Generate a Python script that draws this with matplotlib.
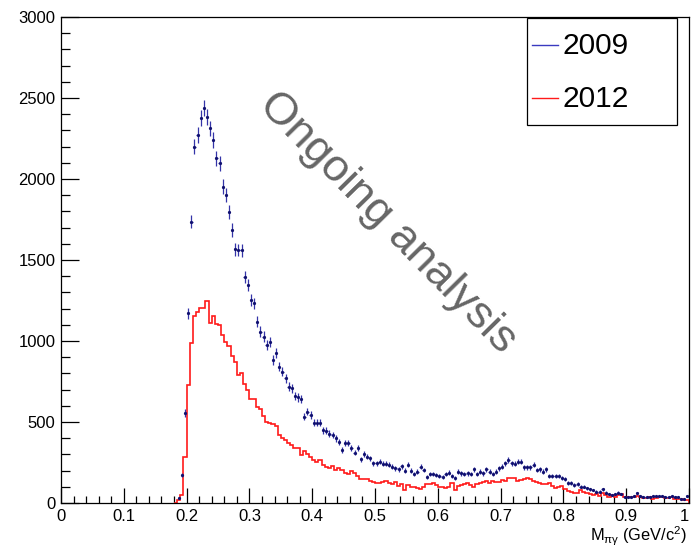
import numpy as np
import matplotlib
matplotlib.use('Agg')
import matplotlib.pyplot as plt
from matplotlib.lines import Line2D
from matplotlib.patches import Rectangle
from matplotlib.ticker import MultipleLocator

plt.rcParams['font.family'] = ['Liberation Sans', 'DejaVu Sans']

# ---------------- data ----------------
n_bins = 200
x_range = (0.0, 1.0)
first_bin = 37          # first non-empty bin (0.185 - 0.190)

counts_2009 = [
    29, 173, 554, 1171, 1737, 2200, 2272, 2375, 2436, 2385,
    2313, 2240, 2128, 2097, 1953, 1901, 1798, 1685, 1565, 1562,
    1560, 1397, 1346, 1253, 1233, 1119, 1057, 1027, 975, 996,
    883, 924, 841, 810, 770, 718, 708, 660, 652, 640,
    533, 564, 543, 496, 496, 496, 448, 445, 428, 420,
    399, 378, 327, 372, 372, 338, 311, 338, 270, 302,
    286, 276, 245, 245, 255, 241, 241, 235, 224, 214,
    208, 228, 199, 235, 199, 179, 193, 224, 204, 162,
    179, 179, 173, 167, 160, 179, 187, 167, 152, 193,
    183, 179, 183, 179, 208, 179, 193, 183, 208, 193,
    179, 193, 214, 224, 245, 265, 245, 241, 255, 255,
    220, 220, 220, 235, 204, 208, 193, 208, 167, 167,
    167, 167, 155, 146, 125, 125, 111, 117, 101, 101,
    91, 85, 80, 70, 70, 85, 64, 56, 49, 56,
    64, 56, 35, 35, 39, 43, 60, 43, 35, 35,
    39, 43, 43, 43, 43, 39, 39, 43, 35, 35,
    27, 27, 43,
]

counts_2012 = [
    18, 49, 286, 728, 986, 1156, 1181, 1202, 1206, 1249,
    1109, 1154, 1105, 1100, 1035, 996, 970, 905, 870, 790,
    800, 735, 700, 645, 640, 595, 580, 540, 500, 495,
    490, 475, 420, 400, 389, 372, 358, 337, 337, 296,
    322, 300, 286, 265, 255, 265, 235, 220, 214, 228,
    204, 214, 204, 183, 179, 200, 183, 167, 146, 146,
    146, 138, 132, 125, 121, 132, 138, 121, 117, 132,
    105, 117, 80, 111, 101, 97, 91, 85, 101, 117,
    117, 121, 111, 101, 101, 91, 101, 121, 80, 105,
    111, 117, 125, 111, 101, 117, 125, 132, 138, 125,
    138, 132, 132, 142, 138, 152, 152, 152, 138, 142,
    146, 152, 146, 138, 132, 125, 117, 117, 121, 105,
    91, 101, 105, 85, 76, 70, 60, 64, 80, 70,
    60, 56, 49, 56, 43, 60, 49, 39, 49, 39,
    49, 56, 35, 35, 39, 35, 43, 35, 29, 29,
    35, 23, 29, 35, 35, 29, 29, 35, 23, 23,
    23, 19, 19,
]

series_labels = ['2009', '2012']
x_ticks = [0, 0.1, 0.2, 0.3, 0.4, 0.5, 0.6, 0.7, 0.8, 0.9, 1]
x_tick_labels = ['0', '0.1', '0.2', '0.3', '0.4', '0.5', '0.6', '0.7', '0.8', '0.9', '1']
y_ticks = [0, 500, 1000, 1500, 2000, 2500, 3000]
x_label = 'M$_{\\mathregular{πγ}}$ (GeV/c$^{\\mathregular{2}}$)'
watermark = 'Ongoing analysis'

# ---------------- build histograms ----------------
edges = np.linspace(x_range[0], x_range[1], n_bins + 1)
centers = 0.5 * (edges[:-1] + edges[1:])
h2009 = np.zeros(n_bins)
h2012 = np.zeros(n_bins)
h2009[first_bin:first_bin + len(counts_2009)] = counts_2009
h2012[first_bin:first_bin + len(counts_2012)] = counts_2012

# ---------------- figure ----------------
W, H = 692, 549
fig = plt.figure(figsize=(W / 100, H / 100), dpi=100)
ax_l, ax_r, ax_t, ax_b = 61, 689, 17, 503
ax = fig.add_axes([ax_l / W, 1 - ax_b / H, (ax_r - ax_l) / W, (ax_b - ax_t) / H])

# red step histogram (2012)
s = first_bin - 1
ax.stairs(h2012[s:], edges[s:], color='#ff1a1a', lw=1.2, zorder=2)

# blue points with errors (2009)
mask = h2009 > 0
ax.errorbar(centers[mask], h2009[mask], yerr=np.sqrt(h2009[mask]),
            xerr=0.0019, fmt='o', ms=1.3, color='#1c1c86', mec='#101070',
            mfc='#101070', ecolor='#3434a8', elinewidth=0.9, capsize=0, zorder=3)

ax.set_xlim(*x_range)
ax.set_ylim(0, 3000)
ax.set_xticks(x_ticks)
ax.set_xticklabels(x_tick_labels)
ax.get_xticklabels()[-1].set_ha('right')
ax.set_yticks(y_ticks)
ax.xaxis.set_minor_locator(MultipleLocator(0.02))
ax.yaxis.set_minor_locator(MultipleLocator(100))
ax.tick_params(axis='x', which='major', direction='in', length=10.5, width=0.9,
               labelsize=12, pad=4)
ax.tick_params(axis='x', which='minor', direction='in', length=5.2, width=0.9)
ax.tick_params(axis='y', which='major', direction='in', length=13, width=0.9,
               labelsize=12, pad=4)
ax.tick_params(axis='y', which='minor', direction='in', length=6.5, width=0.9)
for sp in ax.spines.values():
    sp.set_linewidth(0.9)
    sp.set_zorder(4)

ax.set_xlabel(x_label, fontsize=11.8)
ax.xaxis.set_label_coords(0.997, -0.068)
ax.xaxis.label.set_ha('right')
ax.xaxis.label.set_va('center')

# watermark text
fig.text(388 / W, 1 - 223 / H, watermark, fontsize=32.7, color='#666666',
         rotation=-45.5, ha='center', va='center', rotation_mode='anchor')

# legend (ROOT-style box)
def fx(px):
    return px / W

def fy(py):
    return 1 - py / H

fig.add_artist(Rectangle((fx(527), fy(125)), fx(677) - fx(527), fy(18) - fy(125),
                         transform=fig.transFigure, facecolor='white',
                         edgecolor='black', lw=0.9, zorder=5))
legend_colors = ['#3a3ac0', '#ff1a1a']
legend_y = [45, 98]
for lab, col, yy in zip(series_labels, legend_colors, legend_y):
    fig.add_artist(Line2D([fx(532), fx(558)], [fy(yy), fy(yy)], color=col, lw=1.0,
                          transform=fig.transFigure, zorder=6))
    fig.text(fx(562), fy(yy + 1), lab, fontsize=21.5, ha='left', va='center', zorder=6)

fig.savefig('out.png', dpi=100)
